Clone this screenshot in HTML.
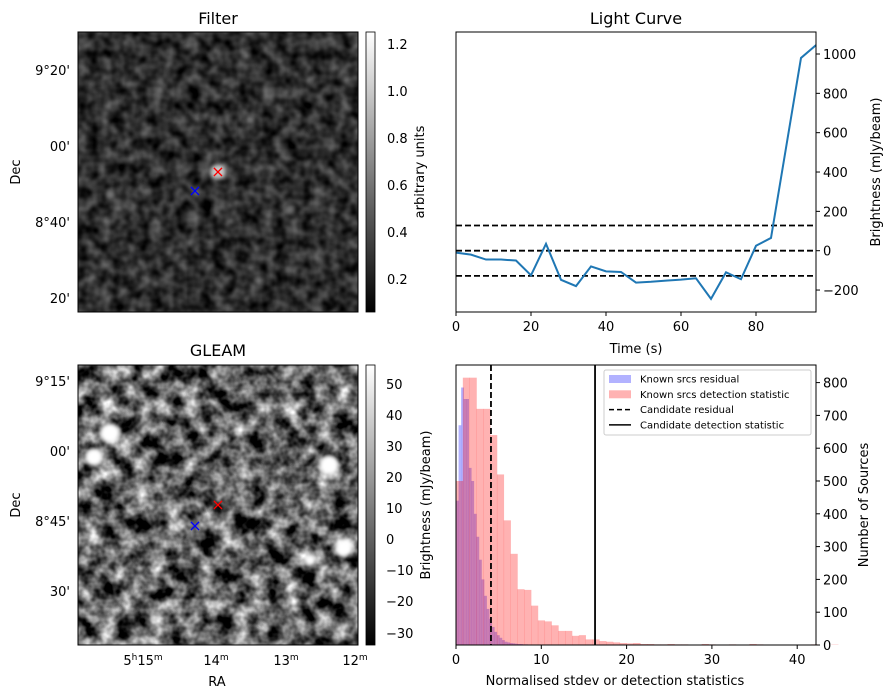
<!DOCTYPE html>
<html><head><meta charset="utf-8"><style>
body{margin:0;background:#fff;}
svg{display:block;font-family:"DejaVu Sans","Liberation Sans",sans-serif;}
</style></head><body>
<svg id="fig" width="893" height="699" viewBox="0 0 893 699" xmlns="http://www.w3.org/2000/svg">
<defs>
<filter id="noiseA" x="0" y="0" width="1" height="1" color-interpolation-filters="sRGB">
<feTurbulence type="fractalNoise" baseFrequency="0.08" numOctaves="2" seed="3"/>
<feColorMatrix type="matrix" values="0.6 0 0 0 -0.12  0.6 0 0 0 -0.12  0.6 0 0 0 -0.12  0 0 0 0 1"/>
</filter>
<filter id="noiseB" x="0" y="0" width="1" height="1" color-interpolation-filters="sRGB">
<feTurbulence type="fractalNoise" baseFrequency="0.06" numOctaves="3" seed="7"/>
<feColorMatrix type="matrix" values="1.7 0 0 0 -0.47  1.7 0 0 0 -0.47  1.7 0 0 0 -0.47  0 0 0 0 1"/>
</filter>
<filter id="blur2"><feGaussianBlur stdDeviation="2"/></filter>
<linearGradient id="gray" x1="0" y1="1" x2="0" y2="0"><stop offset="0" stop-color="#000"/><stop offset="1" stop-color="#fff"/></linearGradient>
</defs>

<g>
<text x="218" y="24" font-size="16" text-anchor="middle">Filter</text>
<rect x="78" y="32" width="280" height="280" fill="#000" filter="url(#noiseA)"/>
<g filter="url(#blur2)" fill="#888" opacity="0.8">
<circle cx="218" cy="172" r="8" fill="#eee"/><circle cx="110" cy="195" r="5"/><circle cx="290" cy="210" r="5"/><circle cx="160" cy="90" r="4"/><circle cx="250" cy="120" r="4"/>
</g>
<rect x="78" y="32" width="280" height="280" fill="none" stroke="#000"/>
<text x="218" y="177" font-size="16" fill="red" text-anchor="middle">×</text>
<text x="195" y="196" font-size="16" fill="blue" text-anchor="middle">×</text>
<g font-size="13" text-anchor="end">
<text x="70" y="75">9°20'</text><text x="70" y="151">00'</text><text x="70" y="227">8°40'</text><text x="70" y="303">20'</text>
</g>
<text transform="translate(20,172) rotate(-90)" font-size="13" text-anchor="middle">Dec</text>
<rect x="366" y="32" width="9" height="280" fill="url(#gray)" stroke="#000" stroke-width="0.8"/>
<g font-size="13">
<text x="387" y="49">1.2</text><text x="387" y="96">1.0</text><text x="387" y="143">0.8</text><text x="387" y="190">0.6</text><text x="387" y="237">0.4</text><text x="387" y="284">0.2</text>
</g>
<text transform="translate(424,172) rotate(-90)" font-size="13" text-anchor="middle">arbitrary units</text>
</g>

<g>
<text x="218" y="356" font-size="16" text-anchor="middle">GLEAM</text>
<rect x="78" y="365" width="280" height="280" fill="#000" filter="url(#noiseB)"/>
<g fill="#fff" filter="url(#blur2)">
<circle cx="110" cy="433" r="10"/><circle cx="94" cy="457" r="9"/><circle cx="329" cy="465" r="10"/><circle cx="344" cy="548" r="9"/><circle cx="310" cy="560" r="6"/>
</g>
<rect x="78" y="365" width="280" height="280" fill="none" stroke="#000"/>
<text x="218" y="510" font-size="16" fill="red" text-anchor="middle">×</text>
<text x="195" y="531" font-size="16" fill="blue" text-anchor="middle">×</text>
<g font-size="13" text-anchor="end">
<text x="70" y="386">9°15'</text><text x="70" y="456">00'</text><text x="70" y="526">8°45'</text><text x="70" y="596">30'</text>
</g>
<text transform="translate(20,505) rotate(-90)" font-size="13" text-anchor="middle">Dec</text>
<g font-size="13" text-anchor="middle">
<text x="143" y="665">5<tspan font-size="9" dy="-5">h</tspan><tspan dy="5">15</tspan><tspan font-size="9" dy="-5">m</tspan></text>
<text x="216" y="665">14<tspan font-size="9" dy="-5">m</tspan></text>
<text x="286" y="665">13<tspan font-size="9" dy="-5">m</tspan></text>
<text x="355" y="665">12<tspan font-size="9" dy="-5">m</tspan></text>
</g>
<text x="217" y="686" font-size="13" text-anchor="middle">RA</text>
<rect x="366" y="365" width="9" height="280" fill="url(#gray)" stroke="#000" stroke-width="0.8"/>
<g font-size="13">
<text x="386" y="389">50</text><text x="386" y="420">40</text><text x="386" y="451">30</text><text x="386" y="482">20</text><text x="386" y="513">10</text><text x="386" y="544">0</text><text x="386" y="575">−10</text><text x="386" y="606">−20</text><text x="386" y="638">−30</text>
</g>
<text transform="translate(430,505) rotate(-90)" font-size="13" text-anchor="middle">Brightness (mJy/beam)</text>
</g>

<g id="lc"></g>
<g id="hist"></g>
</svg>
<script>
const lcTimes=[0,4,8,12,16,20,24,28,32,36,40,44,48,52,56,60,64,68,72,76,80,84,92,96];
const lcValues=[-10,-20,-45,-45,-50,-125,35,-148,-180,-80,-105,-108,-162,-158,-152,-147,-140,-245,-110,-145,25,65,980,1045];
const lcThresholds=[128,0,-128];
const lcXTicks=[0,20,40,60,80];
const lcYTicks=[-200,0,200,400,600,800,1000];
const redCounts=[500,815,815,720,720,640,520,380,278,170,168,120,75,72,60,43,43,28,30,17,17,12,10,8,6,5,6,3,3,2,2,3,2,2,1,1,3,2,1,0,2,1,1,3,2,1,1,0,1,1,0,0,2,0,0,1];
const redWidth=0.8;
const blueCounts=[440,670,785,750,750,540,500,400,330,260,200,150,110,80,55,40,30,22,15,10,8,6,5,4,3,3,2,2,1,1];
const blueWidth=0.3;
const candResidual=4.1;
const candDetection=16.3;
const histXTicks=[0,10,20,30,40];
const histYTicks=[0,100,200,300,400,500,600,700,800];
const NS="http://www.w3.org/2000/svg";
function mk(p,t,a){const e=document.createElementNS(NS,t);for(const k in a)e.setAttribute(k,a[k]);p.appendChild(e);return e;}
const lc=document.getElementById('lc');
const lx=v=>456+(v-0)*(816-456)/96;
const ly=v=>250.7-v*0.1967;
const tl=mk(lc,'text',{x:636,y:24,'font-size':16,'text-anchor':'middle'});tl.textContent='Light Curve';


lcThresholds.forEach(v=>{const l=mk(lc,'line',{x1:456,x2:816,y1:ly(v),y2:ly(v),stroke:'#000','stroke-width':1.8,'stroke-dasharray':'6,3'});

});
const pl=mk(lc,'polyline',{points:lcTimes.map((t,i)=>lx(t)+','+ly(lcValues[i])).join(' '),fill:'none',stroke:'#1f77b4','stroke-width':2});


mk(lc,'rect',{x:456,y:32,width:360,height:280,fill:'none',stroke:'#000'});
lcXTicks.forEach(v=>{mk(lc,'line',{x1:lx(v),x2:lx(v),y1:312,y2:316,stroke:'#000'});const t=mk(lc,'text',{x:lx(v),y:331,'font-size':13,'text-anchor':'middle'});t.textContent=v;

});
lcYTicks.forEach(v=>{mk(lc,'line',{x1:816,x2:820,y1:ly(v),y2:ly(v),stroke:'#000'});const t=mk(lc,'text',{x:823,y:ly(v)+5,'font-size':13});t.textContent=String(v).replace('-','−');

});
const xl=mk(lc,'text',{x:636,y:353,'font-size':13,'text-anchor':'middle'});xl.textContent='Time (s)';


const yl=mk(lc,'text',{transform:'translate(880,172) rotate(-90)','font-size':13,'text-anchor':'middle'});yl.textContent='Brightness (mJy/beam)';


const h=document.getElementById('hist');
const hx=v=>456+v*8.53;
const hy=v=>645-v*0.328;
blueCounts.forEach((c,i)=>{if(!c)return;const r=mk(h,'rect',{x:hx(i*blueWidth),y:hy(c),width:blueWidth*8.53+0.2,height:645-hy(c),fill:'rgba(0,0,255,0.3)'});

});
redCounts.forEach((c,i)=>{if(!c)return;const r=mk(h,'rect',{x:hx(i*redWidth),y:hy(c),width:redWidth*8.53+0.3,height:645-hy(c),fill:'rgba(255,0,0,0.3)'});

});
const c1=mk(h,'line',{x1:hx(candResidual),x2:hx(candResidual),y1:365,y2:645,stroke:'#000','stroke-width':1.8,'stroke-dasharray':'6,3'});


const c2=mk(h,'line',{x1:hx(candDetection),x2:hx(candDetection),y1:365,y2:645,stroke:'#000','stroke-width':1.8});


mk(h,'rect',{x:456,y:365,width:360,height:280,fill:'none',stroke:'#000'});
histXTicks.forEach(v=>{mk(h,'line',{x1:hx(v),x2:hx(v),y1:645,y2:649,stroke:'#000'});const t=mk(h,'text',{x:hx(v),y:664,'font-size':13,'text-anchor':'middle'});t.textContent=v;

});
histYTicks.forEach(v=>{mk(h,'line',{x1:816,x2:820,y1:hy(v),y2:hy(v),stroke:'#000'});const t=mk(h,'text',{x:823,y:hy(v)+5,'font-size':13});t.textContent=v;

});
const hxl=mk(h,'text',{x:615,y:685,'font-size':13,'text-anchor':'middle'});hxl.textContent='Normalised stdev or detection statistics';


const hyl=mk(h,'text',{transform:'translate(868,505) rotate(-90)','font-size':13,'text-anchor':'middle'});hyl.textContent='Number of Sources';


const lg=mk(h,'g',{});


mk(lg,'rect',{x:604,y:370,width:207,height:65,fill:'#fff',stroke:'#ccc',rx:2});
const items=[['Known srcs residual','b'],['Known srcs detection statistic','r'],['Candidate residual','d'],['Candidate detection statistic','s']];
items.forEach((it,i)=>{const y=379+i*15.3;
if(it[1]=='b')mk(lg,'rect',{x:609,y:y-4,width:22,height:8,fill:'rgba(0,0,255,0.3)'});
if(it[1]=='r')mk(lg,'rect',{x:609,y:y-4,width:22,height:8,fill:'rgba(255,0,0,0.3)'});
if(it[1]=='d')mk(lg,'line',{x1:609,x2:631,y1:y,y2:y,stroke:'#000','stroke-width':1.5,'stroke-dasharray':'5,3'});
if(it[1]=='s')mk(lg,'line',{x1:609,x2:631,y1:y,y2:y,stroke:'#000','stroke-width':1.5});
const t=mk(lg,'text',{x:640,y:y+3.5,'font-size':10});t.textContent=it[0];

});
</script>
</body></html>
